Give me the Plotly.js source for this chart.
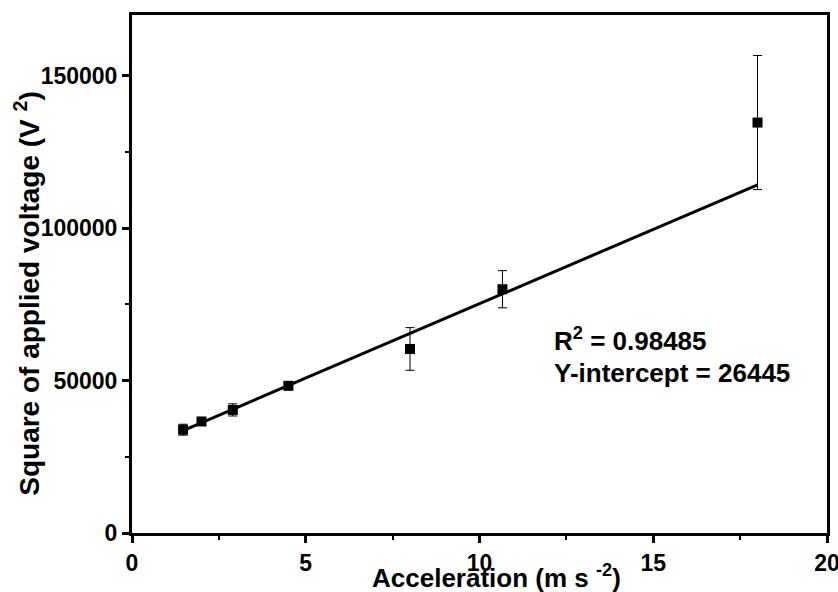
<!DOCTYPE html>
<html>
<head>
<meta charset="utf-8">
<script src="https://cdn.plot.ly/plotly-3.0.1.min.js"></script>
<style>html,body{margin:0;padding:0;background:#fff;}#chart{width:838px;height:592px;}</style>
</head>
<body>
<div id="chart"></div>
<script>
// Data
var accel = [1.47, 2.0, 2.9, 4.5, 8.0, 10.66, 18.0];
var voltSq = [33900, 36600, 40400, 48300, 60400, 80000, 134700];
var voltSqErr = [1800, 1000, 2000, 800, 7000, 6100, 22000];
var fitX = [1.47, 18.0];
var fitY = [33620, 114280];
var xTicks = [0, 5, 10, 15, 20];
var yTicks = [0, 50000, 100000, 150000];
var statsText = ["R<sup>2</sup> = 0.98485", "Y-intercept = 26445"];

var FONT = "Arial, 'Liberation Sans', sans-serif";

var traces = [
  {
    x: accel, y: voltSq, type: 'scatter', mode: 'markers',
    marker: {symbol: 'square', size: 10, color: '#000'},
    error_y: {type: 'data', array: voltSqErr, visible: true, color: '#000', thickness: 1, width: 4.5},
    showlegend: false, hoverinfo: 'skip'
  },
  {
    x: fitX, y: fitY, type: 'scatter', mode: 'lines',
    line: {color: '#000', width: 3},
    showlegend: false, hoverinfo: 'skip'
  }
];

var axisCommon = {
  showgrid: false, zeroline: false,
  showline: true, linecolor: '#000', linewidth: 3, mirror: true,
  ticks: 'outside', ticklen: 7, tickwidth: 3, tickcolor: '#000',
  ticklabeloverflow: 'allow',
  tickfont: {family: FONT, size: 23, color: '#000', weight: 'bold'}
};

var layout = {
  width: 838, height: 592,
  margin: {l: 132, r: 11, t: 15, b: 59},
  paper_bgcolor: '#fff', plot_bgcolor: '#fff',
  xaxis: Object.assign({}, axisCommon, {
    range: [0, 20], tickmode: 'array', tickvals: xTicks, ticktext: xTicks.map(String),
    minor: {tickvals: [2.5, 7.5, 12.5, 17.5], ticks: 'outside', ticklen: 4, tickwidth: 2, tickcolor: '#000'}
  }),
  yaxis: Object.assign({}, axisCommon, {
    range: [0, 170000], tickmode: 'array', tickvals: yTicks, ticktext: yTicks.map(String),
    minor: {tickvals: [25000, 75000, 125000], ticks: 'outside', ticklen: 4, tickwidth: 2, tickcolor: '#000'}
  }),
  annotations: [
    {xref: 'paper', yref: 'paper', x: 0.5245, y: -0.084, xanchor: 'center', yanchor: 'middle',
     text: 'Acceleration (m s <sup>-2</sup>)', showarrow: false,
     font: {family: FONT, size: 26, color: '#000', weight: 'bold'}},
    {xref: 'paper', yref: 'paper', x: -0.151, y: 0.462, xanchor: 'center', yanchor: 'middle', textangle: -90,
     text: 'Square of applied voltage (V <sup>2</sup>)', showarrow: false,
     font: {family: FONT, size: 28, color: '#000', weight: 'bold'}},
    {xref: 'x', yref: 'y', x: 12.1, y: 63500, xanchor: 'left', yanchor: 'middle',
     text: statsText[0], showarrow: false,
     font: {family: FONT, size: 26, color: '#000', weight: 'bold'}},
    {xref: 'x', yref: 'y', x: 12.1, y: 52500, xanchor: 'left', yanchor: 'middle',
     text: statsText[1], showarrow: false,
     font: {family: FONT, size: 26, color: '#000', weight: 'bold'}}
  ]
};

Plotly.newPlot('chart', traces, layout, {displayModeBar: false, staticPlot: true});
</script>
</body>
</html>
